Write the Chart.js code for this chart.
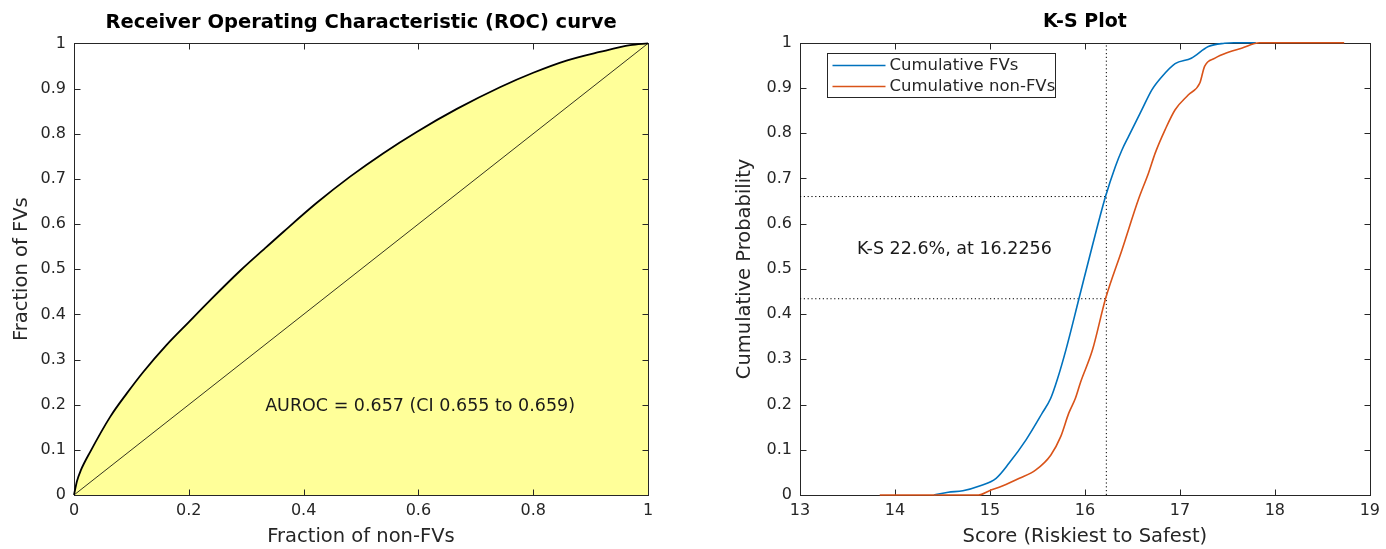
<!DOCTYPE html>
<html>
<head>
<meta charset="utf-8">
<title>ROC curve and K-S plot</title>
<script src="https://cdn.jsdelivr.net/npm/chart.js@4.4.1/dist/chart.umd.min.js"></script>
<style>
  html, body { margin: 0; padding: 0; background: #fff; }
  #wrap { position: relative; width: 1386px; height: 549px; }
  #roc { position: absolute; left: 0; top: 0; }
  #ks { position: absolute; left: 693px; top: 0; }
</style>
</head>
<body>
<div id="wrap">
  <canvas id="roc" width="693" height="549"></canvas>
  <canvas id="ks" width="693" height="549"></canvas>
</div>
<script>
/* ---- data ---- */

// ROC curve: fraction of non-FVs (x) vs fraction of FVs (y)
const rocX = [0, 0.005, 0.012, 0.028, 0.063, 0.092, 0.121, 0.161, 0.2, 0.237, 0.289, 0.336, 0.365, 0.423, 0.481, 0.539, 0.597, 0.667, 0.742, 0.8, 0.858, 0.916, 0.969, 1];
const rocY = [0, 0.03, 0.055, 0.095, 0.173, 0.225, 0.273, 0.332, 0.383, 0.431, 0.496, 0.55, 0.583, 0.647, 0.705, 0.757, 0.804, 0.855, 0.903, 0.935, 0.962, 0.981, 0.996, 1];
const diagX = [0, 1];
const diagY = [0, 1];

// K-S plot: cumulative distributions of the score
const fvScore = [14.41, 14.56, 14.715, 14.89, 15.065, 15.2, 15.38, 15.55, 15.64, 15.71, 15.8, 15.937, 16.076, 16.217, 16.32, 16.39, 16.46, 16.6, 16.705, 16.81, 16.95, 17.12, 17.3, 17.47, 17.57, 17.8];
const fvCum = [0, 0.006, 0.0095, 0.02, 0.037, 0.07, 0.122, 0.181, 0.214, 0.256, 0.321, 0.434, 0.549, 0.66, 0.726, 0.763, 0.793, 0.852, 0.896, 0.925, 0.954, 0.966, 0.992, 0.999, 1, 1];
const nonFvScore = [13.84, 14.88, 14.995, 15.13, 15.31, 15.48, 15.64, 15.745, 15.83, 15.9, 15.955, 16.08, 16.217, 16.39, 16.566, 16.67, 16.74, 16.845, 16.95, 17.09, 17.21, 17.26, 17.37, 17.51, 17.65, 17.84, 18.73];
const nonFvCum = [0, 0, 0.0095, 0.02, 0.037, 0.055, 0.088, 0.129, 0.181, 0.214, 0.25, 0.321, 0.434, 0.542, 0.655, 0.712, 0.756, 0.808, 0.852, 0.885, 0.911, 0.948, 0.966, 0.979, 0.988, 1, 1];
const ksAt = 16.2256;
const ksHigh = 0.66;
const ksLow = 0.434;

// ticks
const fracTicks = [0, 0.2, 0.4, 0.6, 0.8, 1];
const probTicks = [0, 0.1, 0.2, 0.3, 0.4, 0.5, 0.6, 0.7, 0.8, 0.9, 1];
const scoreTicks = [13, 14, 15, 16, 17, 18, 19];

/* ---- look ---- */
const FONT = '"DejaVu Sans", "Liberation Sans", sans-serif';
const AXIS = '#262626';
const BLUE = '#0072BD';
const ORANGE = '#D95319';

Chart.defaults.font.family = FONT;
Chart.defaults.color = AXIS;

const pts = (xs, ys) => xs.map((x, i) => ({ x, y: ys[i] }));
const fmtTick = (v) => String(+v.toFixed(2));
const useTicks = (arr) => (s) => { s.ticks = arr.map(v => ({ value: v })); };

// box round the plot with inward ticks on all four sides (MATLAB style);
// drawn under the data lines, which are not clipped
const matlabAxes = {
  id: 'matlabAxes',
  beforeDatasetsDraw(chart) {
    const { ctx, chartArea: a, scales: { x, y } } = chart;
    const L = Math.round(a.left) + 0.5, R = Math.round(a.right) + 0.5;
    const T = Math.round(a.top) + 0.5, B = Math.round(a.bottom) + 0.5;
    ctx.save();
    ctx.strokeStyle = AXIS;
    ctx.lineWidth = 1;
    ctx.beginPath();
    x.ticks.forEach(t => {
      const px = Math.round(x.getPixelForValue(t.value)) + 0.5;
      ctx.moveTo(px, B); ctx.lineTo(px, B - 6);
      ctx.moveTo(px, T); ctx.lineTo(px, T + 6);
    });
    y.ticks.forEach(t => {
      const py = Math.round(y.getPixelForValue(t.value)) + 0.5;
      ctx.moveTo(L, py); ctx.lineTo(L + 6, py);
      ctx.moveTo(R, py); ctx.lineTo(R - 6, py);
    });
    ctx.stroke();
    ctx.strokeRect(L, T, R - L, B - T);
    ctx.restore();
  }
};

// text placed in data units
const notes = {
  id: 'notes',
  afterDatasetsDraw(chart, args, opts) {
    const { ctx, scales: { x, y } } = chart;
    ctx.save();
    ctx.font = '17.5px ' + FONT;
    ctx.fillStyle = '#1a1a1a';
    ctx.textAlign = 'left';
    ctx.textBaseline = 'middle';
    (opts.items || []).forEach(n => ctx.fillText(n.text, x.getPixelForValue(n.x), y.getPixelForValue(n.y)));
    ctx.restore();
  }
};

// legend box inside the plot, top left
const boxLegend = {
  id: 'boxLegend',
  afterDraw(chart, args, opts) {
    if (!opts.labels) return;
    const { ctx, chartArea: a } = chart;
    const items = opts.labels.map(l => chart.data.datasets.find(d => d.label === l));
    const left = Math.round(a.left) + 27.5, top = Math.round(a.top) + 10.5;
    const w = 228, h = 44;
    ctx.save();
    ctx.fillStyle = '#fff';
    ctx.fillRect(left, top, w, h);
    ctx.strokeStyle = AXIS;
    ctx.lineWidth = 1;
    ctx.strokeRect(left, top, w, h);
    ctx.font = '16.5px ' + FONT;
    ctx.textBaseline = 'middle';
    items.forEach((d, i) => {
      const cy = top + 12 + i * 21;
      ctx.strokeStyle = d.borderColor;
      ctx.lineWidth = 1.5;
      ctx.beginPath();
      ctx.moveTo(left + 5, cy); ctx.lineTo(left + 58, cy);
      ctx.stroke();
      ctx.fillStyle = AXIS;
      ctx.fillText(d.label, left + 62, cy);
    });
    ctx.restore();
  }
};

function axisOpts(ticks, min, max, title, side) {
  return {
    type: 'linear', min, max,
    afterBuildTicks: useTicks(ticks),
    grid: { display: false, drawTicks: false },
    border: { display: false },
    ticks: { font: { size: 16 }, color: AXIS, padding: side === 'x' ? 6 : 8, callback: fmtTick, maxRotation: 0 },
    title: { display: true, text: title, font: { size: 19.5 }, color: AXIS, padding: 0 }
  };
}

function baseOpts(titleText, yWidth, padLeft, padRight, x, y) {
  x.afterFit = (s) => { s.height = 54; };
  y.afterFit = (s) => { s.width = yWidth; };
  return {
    responsive: false,
    animation: false,
    devicePixelRatio: 1,
    events: [],
    layout: { padding: { left: padLeft, right: padRight, top: 0, bottom: 0 } },
    scales: { x, y },
    plugins: {
      legend: { display: false },
      tooltip: { enabled: false },
      filler: { drawTime: 'beforeDatasetsDraw' },
      title: {
        display: true, text: titleText, fullSize: false,
        font: { size: 19.5, weight: 'bold' }, color: '#000',
        padding: { top: 11, bottom: 9 }
      }
    }
  };
}

/* ---- ROC ---- */
const rocOpts = baseOpts('Receiver Operating Characteristic (ROC) curve', 64, 10, 45,
  axisOpts(fracTicks, 0, 1, 'Fraction of non-FVs', 'x'),
  axisOpts(probTicks, 0, 1, 'Fraction of FVs', 'y'));
rocOpts.plugins.notes = { items: [{ text: 'AUROC = 0.657 (CI 0.655 to 0.659)', x: 0.333, y: 0.195 }] };

new Chart(document.getElementById('roc'), {
  type: 'line',
  data: {
    datasets: [
      { label: 'ROC', data: pts(rocX, rocY), borderColor: '#000', borderWidth: 1.8, backgroundColor: '#FFFF99', fill: 'origin', pointRadius: 0, cubicInterpolationMode: 'monotone', clip: false },
      { label: 'Chance', data: pts(diagX, diagY), borderColor: '#000', borderWidth: 0.8, fill: false, pointRadius: 0, tension: 0, clip: false }
    ]
  },
  options: rocOpts,
  plugins: [matlabAxes, notes]
});

/* ---- K-S ---- */
const ksOpts = baseOpts('K-S Plot', 67, 40, 16,
  axisOpts(scoreTicks, 13, 19, 'Score (Riskiest to Safest)', 'x'),
  axisOpts(probTicks, 0, 1, 'Cumulative Probability', 'y'));
ksOpts.plugins.title.font.size = 19;
ksOpts.plugins.notes = { items: [{ text: 'K-S 22.6%, at 16.2256', x: 13.6, y: 0.544 }] };
ksOpts.plugins.boxLegend = { labels: ['Cumulative FVs', 'Cumulative non-FVs'] };

const dotted = { borderColor: '#000', borderWidth: 1, borderDash: [1.2, 2.6], pointRadius: 0, fill: false, tension: 0 };

new Chart(document.getElementById('ks'), {
  type: 'line',
  data: {
    datasets: [
      { label: 'Cumulative non-FVs', data: pts(nonFvScore, nonFvCum), borderColor: ORANGE, borderWidth: 1.6, pointRadius: 0, fill: false, cubicInterpolationMode: 'monotone', clip: false, order: 1 },
      { label: 'Cumulative FVs', data: pts(fvScore, fvCum), borderColor: BLUE, borderWidth: 1.6, pointRadius: 0, fill: false, cubicInterpolationMode: 'monotone', clip: false, order: 2 },
      { label: 'K-S score', data: pts([ksAt, ksAt], [0, 1]), ...dotted, order: 3 },
      { label: 'K-S high', data: pts([13, ksAt], [ksHigh, ksHigh]), ...dotted, order: 3 },
      { label: 'K-S low', data: pts([13, ksAt], [ksLow, ksLow]), ...dotted, order: 3 }
    ]
  },
  options: ksOpts,
  plugins: [matlabAxes, notes, boxLegend]
});
</script>
</body>
</html>
